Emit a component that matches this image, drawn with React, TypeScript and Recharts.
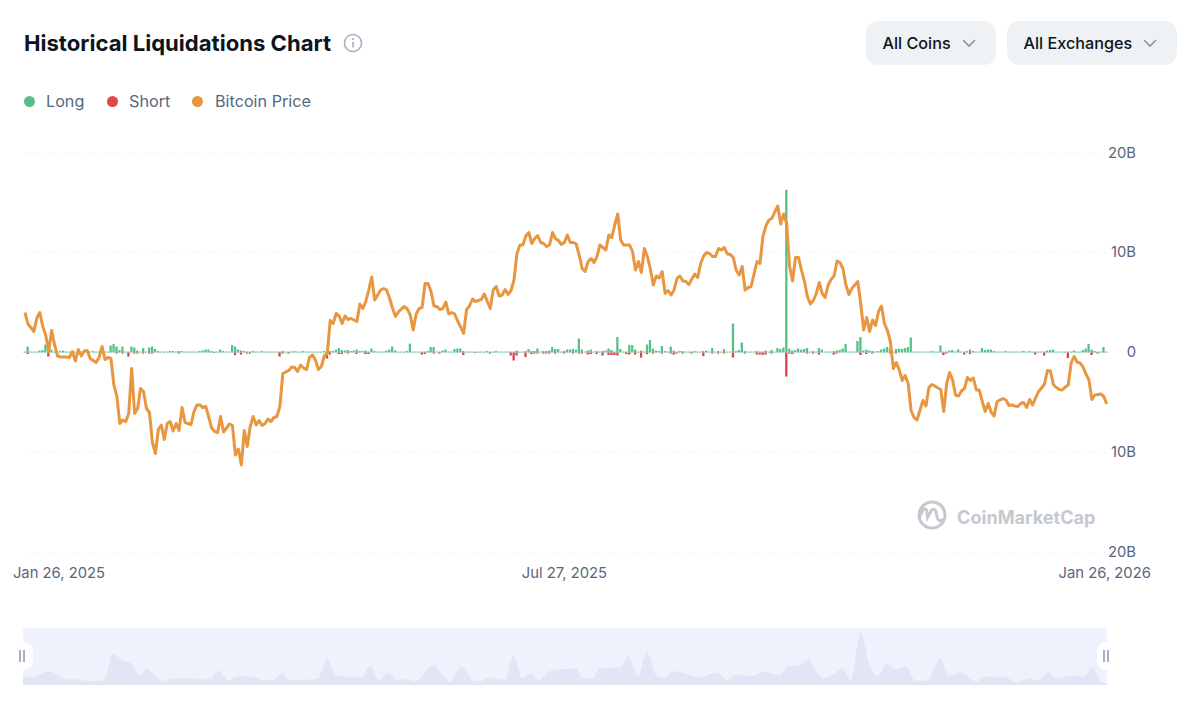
import { Area, AreaChart, Bar, CartesianGrid, ComposedChart, Line, XAxis, YAxis } from 'recharts';

// Bitcoin price in $k, one value per day from Jan 26, 2025
const priceValues = [
  104.7, 102.4, 101.7, 100.9, 103.6, 104.7, 101.9, 100.2, 96.9, 101.1,
  98.2, 96.0, 95.8, 95.8, 95.8, 95.7, 96.9, 95.0, 97.3, 96.0,
  97.0, 97.1, 95.5, 95.1, 94.7, 95.7, 97.9, 95.3, 95.7, 95.5,
  90.2, 87.9, 82.5, 83.2, 82.9, 84.5, 93.5, 84.5, 85.5, 89.5,
  88.9, 85.5, 84.7, 78.7, 76.5, 81.3, 82.2, 79.3, 82.5, 82.9,
  81.0, 82.5, 81.1, 85.7, 82.7, 82.5, 82.3, 84.8, 86.2, 86.2,
  85.7, 85.9, 83.8, 81.6, 80.9, 80.7, 83.9, 80.8, 81.6, 82.4,
  82.1, 76.2, 77.4, 74.2, 81.1, 77.9, 81.9, 83.9, 82.2, 83.1,
  82.1, 82.5, 83.4, 82.9, 83.7, 83.9, 85.9, 92.5, 92.8, 93.1,
  93.8, 93.7, 92.9, 94.2, 93.6, 93.3, 95.7, 96.2, 95.2, 93.3,
  93.9, 96.0, 96.5, 103.1, 102.5, 104.5, 104.0, 102.5, 104.0, 103.3,
  103.5, 103.2, 102.9, 106.4, 105.5, 106.9, 109.2, 111.8, 107.2, 108.2,
  109.2, 109.5, 109.2, 107.6, 105.6, 103.9, 104.8, 105.4, 105.9, 105.4,
  104.2, 101.2, 104.4, 105.5, 105.7, 110.5, 110.5, 108.9, 106.0, 105.9,
  105.3, 105.5, 106.8, 104.4, 104.7, 104.4, 103.0, 101.8, 100.5, 105.3,
  106.0, 107.4, 106.9, 107.1, 107.3, 108.4, 106.9, 105.5, 109.2, 109.9,
  108.0, 108.2, 109.3, 108.3, 109.1, 111.2, 116.5, 118.2, 118.2, 120.0,
  120.7, 118.5, 119.5, 120.1, 118.7, 118.5, 117.9, 118.2, 120.7, 119.5,
  119.1, 118.3, 118.7, 120.2, 118.7, 118.7, 118.4, 116.2, 113.5, 112.9,
  114.9, 115.5, 114.7, 115.9, 118.2, 117.7, 117.2, 120.2, 119.7, 122.2,
  124.4, 119.2, 118.2, 118.2, 118.2, 116.9, 113.2, 114.9, 112.7, 117.5,
  115.9, 113.5, 110.2, 112.0, 111.6, 112.9, 108.5, 109.1, 108.2, 109.2,
  111.5, 112.0, 111.0, 110.9, 110.3, 111.4, 112.4, 111.7, 114.5, 116.0,
  116.7, 116.5, 115.9, 115.9, 117.5, 117.2, 117.7, 116.4, 116.3, 115.7,
  113.1, 112.2, 113.9, 109.2, 109.7, 109.9, 112.4, 114.9, 114.5, 119.9,
  122.0, 123.2, 123.5, 124.8, 126.0, 122.4, 124.4, 122.5, 113.9, 111.0,
  115.7, 115.7, 113.2, 110.9, 107.9, 106.4, 107.1, 108.5, 110.7, 108.5,
  107.7, 110.2, 111.3, 112.0, 115.0, 114.7, 113.5, 110.2, 108.3, 109.5,
  110.2, 110.9, 106.5, 101.2, 103.7, 100.9, 103.2, 102.1, 104.9, 106.0,
  102.5, 101.1, 98.9, 93.5, 94.7, 93.2, 91.1, 92.1, 90.5, 85.1,
  83.7, 83.2, 85.2, 87.1, 86.0, 89.7, 90.3, 90.0, 89.6, 89.3,
  84.9, 90.5, 92.7, 91.2, 88.2, 88.0, 89.0, 89.5, 91.7, 91.1,
  91.6, 89.2, 89.2, 86.9, 84.9, 86.5, 84.8, 84.0, 86.9, 87.2,
  87.5, 87.2, 86.1, 86.2, 86.0, 85.9, 86.5, 86.7, 85.7, 87.3,
  86.2, 87.6, 88.9, 89.6, 90.4, 93.1, 93.0, 90.3, 89.7, 89.3,
  89.2, 89.8, 90.2, 94.6, 95.9, 94.8, 94.6, 93.8, 92.4, 91.2,
  87.3, 88.2, 88.3, 88.4, 87.9, 86.4,
];

// long liquidations in $B
const longValues = [
  0.1, 0.6, 0.1, 0.1, 0.1, 0.2, 0.25, 0.8, 0.1, 0.3,
  0.1, 0.1, 0.15, 0.2, 0.1, 0.1, 0.1, 0.1, 0.1, 0.1,
  0.1, 0.1, 0.1, 0.15, 0.1, 0.1, 0.1, 0.1, 0.1, 0.7,
  0.85, 0.6, 0.25, 0.6, 0.1, 0.1, 0.6, 0.5, 0.2, 0.1,
  0.45, 0.1, 0.5, 0.6, 0.35, 0.15, 0.1, 0.1, 0.1, 0.15,
  0.15, 0.1, 0.15, 0.15, 0.1, 0.1, 0.1, 0.1, 0.1, 0.15,
  0.2, 0.3, 0.3, 0.15, 0.1, 0.1, 0.3, 0.15, 0.1, 0.1,
  0.75, 0.6, 0.3, 0.2, 0.15, 0.1, 0.1, 0.15, 0.1, 0.1,
  0.15, 0.1, 0.1, 0.1, 0.1, 0.1, 0.1, 0.15, 0.1, 0.1,
  0.1, 0.15, 0.1, 0.1, 0.15, 0.1, 0.1, 0.1, 0.1, 0.1,
  0.1, 0.15, 0.15, 0.15, 0.15, 0.3, 0.45, 0.25, 0.2, 0.25,
  0.15, 0.2, 0.3, 0.15, 0.15, 0.2, 0.1, 0.4, 0.15, 0.1,
  0.1, 0.1, 0.2, 0.3, 0.6, 0.2, 0.1, 0.1, 0.1, 0.15,
  0.9, 0.1, 0.1, 0.1, 0.1, 0.1, 0.15, 0.55, 0.55, 0.1,
  0.1, 0.2, 0.3, 0.1, 0.1, 0.35, 0.4, 0.4, 0.15, 0.1,
  0.1, 0.1, 0.1, 0.1, 0.1, 0.1, 0.15, 0.1, 0.1, 0.15,
  0.1, 0.1, 0.1, 0.1, 0.1, 0.1, 0.2, 0.1, 0.1, 0.15,
  0.35, 0.15, 0.15, 0.4, 0.1, 0.15, 0.15, 0.2, 0.55, 0.35,
  0.35, 0.1, 0.15, 0.3, 0.3, 0.35, 0.3, 1.4, 0.3, 0.1,
  0.2, 0.3, 0.1, 0.15, 0.1, 0.15, 0.2, 0.4, 0.25, 0.1,
  1.55, 0.35, 0.1, 0.1, 0.75, 0.75, 0.3, 0.1, 0.2, 0.1,
  0.8, 1.25, 0.4, 0.2, 0.15, 0.65, 0.15, 0.1, 0.6, 0.2,
  0.1, 0.15, 0.15, 0.1, 0.1, 0.1, 0.15, 0.1, 0.1, 0.15,
  0.2, 0.1, 0.45, 0.1, 0.15, 0.1, 0.35, 0.1, 0.1, 2.9,
  0.15, 0.25, 1.0, 0.15, 0.1, 0.1, 0.1, 0.15, 0.1, 0.1,
  0.2, 0.1, 0.25, 0.1, 0.45, 0.35, 0.5, 16.3, 0.4, 0.2,
  0.25, 0.4, 0.3, 0.35, 0.45, 0.1, 0.15, 0.1, 0.45, 0.3,
  0.1, 0.1, 0.1, 0.15, 0.2, 0.25, 0.4, 0.85, 0.1, 0.1,
  0.1, 1.15, 1.55, 0.2, 0.3, 0.2, 0.15, 0.1, 0.15, 0.3,
  0.4, 0.55, 0.4, 0.1, 0.35, 0.4, 0.35, 0.45, 0.55, 1.5,
  0.1, 0.1, 0.1, 0.1, 0.1, 0.1, 0.15, 0.1, 0.1, 0.7,
  0.1, 0.1, 0.2, 0.25, 0.1, 0.3, 0.1, 0.1, 0.15, 0.3,
  0.15, 0.1, 0.1, 0.45, 0.25, 0.3, 0.3, 0.15, 0.1, 0.1,
  0.1, 0.15, 0.1, 0.1, 0.1, 0.1, 0.1, 0.15, 0.1, 0.15,
  0.1, 0.1, 0.1, 0.1, 0.1, 0.2, 0.25, 0.3, 0.1, 0.1,
  0.1, 0.1, 0.1, 0.1, 0.2, 0.1, 0.1, 0.25, 0.4, 0.85,
  0.3, 0.15, 0.1, 0.1, 0.55, 0.1,
];

// short liquidations in $B
const shortValues = [
  0, 0.15, 0, 0, 0, 0, 0, 0, 0.4, 0,
  0, 0, 0, 0, 0, 0, 0, 0, 0, 0,
  0, 0, 0, 0, 0, 0, 0, 0, 0, 0,
  0, 0.1, 0, 0.1, 0, 0.4, 0, 0.1, 0.1, 0,
  0.1, 0, 0.1, 0.1, 0, 0, 0, 0, 0, 0,
  0, 0, 0.1, 0, 0, 0, 0, 0, 0, 0,
  0, 0, 0, 0, 0.05, 0, 0, 0, 0, 0,
  0, 0.25, 0, 0.2, 0, 0.1, 0.1, 0, 0, 0,
  0, 0, 0, 0, 0, 0, 0.4, 0.1, 0, 0.1,
  0, 0, 0, 0, 0, 0, 0, 0, 0, 0,
  0, 0, 0.6, 0.2, 0, 0, 0.15, 0.15, 0, 0.1,
  0, 0, 0.15, 0, 0, 0.15, 0.15, 0, 0, 0,
  0, 0, 0, 0, 0, 0, 0, 0, 0, 0,
  0, 0, 0, 0, 0.2, 0.15, 0, 0, 0.1, 0,
  0.1, 0, 0, 0, 0, 0, 0, 0, 0.25, 0,
  0, 0, 0.05, 0, 0, 0, 0, 0.1, 0, 0,
  0, 0, 0, 0, 0.3, 0.8, 0.3, 0, 0, 0.45,
  0, 0.15, 0.1, 0.1, 0, 0.1, 0.1, 0.1, 0, 0.1,
  0, 0, 0.1, 0, 0, 0.1, 0, 0.1, 0.1, 0,
  0.2, 0.15, 0, 0.15, 0, 0.3, 0, 0.25, 0.25, 0.25,
  0.3, 0, 0, 0.15, 0.2, 0, 0.2, 0, 0.5, 0,
  0.15, 0, 0.1, 0, 0, 0.1, 0, 0, 0.1, 0.2,
  0.1, 0, 0.1, 0, 0, 0.1, 0, 0, 0, 0.35,
  0, 0, 0.1, 0, 0.1, 0, 0.1, 0, 0, 0.5,
  0, 0, 0, 0.1, 0, 0, 0, 0.2, 0.2, 0.25,
  0.2, 0, 0.1, 0, 0, 0, 0, 2.4, 0.1, 0.15,
  0, 0, 0, 0, 0.1, 0, 0.1, 0, 0.2, 0,
  0, 0, 0, 0.2, 0.1, 0, 0, 0, 0, 0,
  0, 0, 0.25, 0, 0.15, 0, 0.1, 0, 0, 0,
  0, 0, 0.1, 0, 0.1, 0, 0, 0, 0, 0,
  0, 0, 0, 0, 0, 0, 0, 0, 0, 0,
  0.25, 0.1, 0, 0, 0, 0, 0, 0.2, 0, 0.15,
  0, 0, 0, 0, 0, 0, 0, 0, 0, 0,
  0, 0, 0, 0, 0, 0, 0, 0, 0, 0,
  0, 0.2, 0, 0, 0.3, 0, 0, 0, 0, 0,
  0, 0, 0.55, 0, 0, 0, 0, 0, 0, 0,
  0.25, 0, 0.1, 0, 0, 0,
];

// overview strip under the chart: day offset and relative volume
const overviewDays = [
  0, 3.1, 5.7, 8.9, 11.5, 14.3, 18.6, 21.2, 27, 28.3, 30.2, 33.4, 36, 37.5, 39.2, 41.8, 43.7, 47.6, 50.2, 56,
  59.2, 63.1, 66, 69.3, 72.2, 78, 81.2, 84.4, 87.3, 90.2, 93.5, 99.3, 102.5, 105.7, 114.1, 117.1, 120, 123.2, 126.4, 129.6,
  132.2, 138.6, 140.6, 144.2, 147.7, 152.2, 154.8, 156.7, 162.5, 165.4, 168.3, 171.3, 174.1, 177.6, 186.4, 189, 192.2, 194.5, 201.6, 204.2,
  207.4, 210.4, 213.9, 216.7, 219, 221.6, 228.1, 233.9, 237.4, 240.3, 246.8, 249.4, 255.2, 257.8, 261.6, 264.9, 267.5, 270, 272.6, 276.5,
  279.1, 282.6, 285.5, 288.1, 291.3, 294.6, 297.8, 301, 304.9, 309.4, 312.3, 315.9, 321.7, 324.3, 331.4, 335.2, 339.8, 342.3, 345.8, 348.1,
  354.6, 357.8, 360.8, 363.6, 365.6,
];
const overviewValues = [
  27, 21, 33, 40, 30, 17, 17, 12, 13, 35, 93, 73, 67, 50, 27, 50, 35, 10, 19, 20,
  17, 18, 43, 13, 27, 22, 14, 15, 34, 13, 16, 17, 77, 30, 22, 57, 15, 35, 15, 19,
  11, 60, 40, 10, 55, 12, 11, 23, 15, 87, 20, 35, 15, 42, 49, 20, 20, 50, 53, 87,
  25, 97, 25, 20, 41, 39, 23, 37, 15, 30, 27, 40, 30, 55, 60, 77, 40, 20, 28, 50,
  15, 155, 60, 27, 63, 48, 55, 13, 13, 78, 27, 37, 10, 25, 22, 9, 20, 13, 38, 20,
  28, 25, 53, 10, 7,
];

const yTicks = [20, 10, 0, -10, -20];
const xTicks = ['Jan 26, 2025', 'Jul 27, 2025', 'Jan 26, 2026'];
const legendItems = [
  { label: 'Long', color: '#55c188', dot: 29, text: 46 },
  { label: 'Short', color: '#dd4848', dot: 112, text: 129 },
  { label: 'Bitcoin Price', color: '#ea963f', dot: 197, text: 215 },
];

const formatDay = (index: number) =>
  new Date(Date.UTC(2025, 0, 26 + index)).toLocaleDateString('en-US', {
    month: 'short',
    day: 'numeric',
    year: 'numeric',
    timeZone: 'UTC',
  });

const chartData = priceValues.map((price, i) => ({
  date: formatDay(i),
  price,
  long: longValues[i],
  short: shortValues[i] ? -shortValues[i] : null,
}));

const overviewData = overviewDays.map((day, i) => ({ day, value: overviewValues[i] }));

const FONT = 'Inter, sans-serif';
const MUTED = '#58667e';

function XTick({ x, y, payload, index }: any) {
  const shift = index === 0 ? 34 : index === 2 ? -2 : 0;
  return (
    <text x={x + shift} y={y + 17.2} textAnchor="middle" fontFamily={FONT} fontSize={14.8} fill={MUTED}>
      {payload.value}
    </text>
  );
}

function YTick({ y, payload }: any) {
  return (
    <text x={1136} y={y + 4.7} textAnchor="end" fontFamily={FONT} fontSize={14.8} fill={MUTED}>
      {payload.value === 0 ? '0' : `${Math.abs(payload.value)}B`}
    </text>
  );
}

function Dropdown({ label, left, width }: { label: string; left: number; width: number }) {
  return (
    <div
      style={{
        position: 'absolute',
        left,
        top: 21,
        width,
        height: 44,
        borderRadius: 12,
        background: '#eff2f5',
        fontSize: 16.2,
        fontWeight: 500,
        lineHeight: '44px',
        color: '#0d1421',
      }}
    >
      <span style={{ position: 'absolute', left: 16.5, whiteSpace: 'nowrap' }}>{label}</span>
      <svg width="16" height="10" style={{ position: 'absolute', right: 19, top: 17 }}>
        <path d="M2 2 L8 8 L14 2" fill="none" stroke="#8a94a6" strokeWidth="1.6" />
      </svg>
    </div>
  );
}

function Handle({ left }: { left: number }) {
  return (
    <div
      style={{
        position: 'absolute',
        left,
        top: 642,
        width: 20,
        height: 28,
        borderRadius: 9,
        background: '#fff',
      }}
    >
      <div style={{ position: 'absolute', left: 6, top: 8, width: 1.5, height: 12, background: '#a6b0c3' }} />
      <div style={{ position: 'absolute', left: 10, top: 8, width: 1.5, height: 12, background: '#a6b0c3' }} />
    </div>
  );
}

export default function App() {
  return (
    <div
      style={{
        position: 'absolute',
        left: 0,
        top: 0,
        width: 1200,
        height: 716,
        background: '#fff',
        overflow: 'hidden',
        fontFamily: FONT,
      }}
    >
      <div
        style={{
          position: 'absolute',
          left: 24,
          top: 29,
          fontSize: 22.1,
          fontWeight: 700,
          lineHeight: '28px',
          color: '#0d1421',
          whiteSpace: 'nowrap',
        }}
      >
        Historical Liquidations Chart
      </div>
      <svg width="20" height="20" style={{ position: 'absolute', left: 343, top: 33 }}>
        <circle cx="10" cy="10" r="8.5" fill="none" stroke="#a6b0c3" strokeWidth="1.6" />
        <line x1="10" y1="9" x2="10" y2="14.5" stroke="#a6b0c3" strokeWidth="1.6" />
        <circle cx="10" cy="6" r="1.1" fill="#a6b0c3" />
      </svg>

      <Dropdown label="All Coins" left={866} width={130} />
      <Dropdown label="All Exchanges" left={1007} width={170} />

      {legendItems.map((item) => (
        <div key={item.label}>
          <div
            style={{
              position: 'absolute',
              left: item.dot - 5.5,
              top: 95.5,
              width: 11,
              height: 11,
              borderRadius: '50%',
              background: item.color,
            }}
          />
          <div
            style={{
              position: 'absolute',
              left: item.text,
              top: 90,
              fontSize: 16.2,
              lineHeight: '22px',
              color: MUTED,
              whiteSpace: 'nowrap',
            }}
          >
            {item.label}
          </div>
        </div>
      ))}

      <div style={{ position: 'absolute', left: 0, top: 0 }}>
        <ComposedChart
          width={1200}
          height={600}
          data={chartData}
          stackOffset="sign"
          margin={{ top: 152.8, right: 41.8, left: 23.5, bottom: 17.7 }}
        >
          <CartesianGrid
            yAxisId="liq"
            horizontal
            vertical={false}
            stroke="#e9edf2"
            strokeDasharray="1.5 3.5"
          />
          <XAxis
            dataKey="date"
            ticks={xTicks}
            interval={0}
            height={30}
            axisLine={false}
            tickLine={false}
            tick={<XTick />}
          />
          <YAxis
            yAxisId="liq"
            orientation="right"
            width={50}
            domain={[-20, 20]}
            ticks={yTicks}
            axisLine={false}
            tickLine={false}
            tick={<YTick />}
          />
          <YAxis yAxisId="price" hide domain={[56.74, 136.64]} />
          <Bar yAxisId="liq" dataKey="long" name="Long" stackId="liq" barSize={2.3} fill="#55c188" isAnimationActive={false} />
          <Bar yAxisId="liq" dataKey="short" name="Short" stackId="liq" barSize={2.3} fill="#df3f50" isAnimationActive={false} />
          <Line
            yAxisId="price"
            dataKey="price"
            name="Bitcoin Price"
            stroke="#e8963f"
            strokeWidth={3}
            dot={false}
            strokeLinejoin="round"
            isAnimationActive={false}
          />
        </ComposedChart>
      </div>

      {/* watermark */}
      <svg width="32" height="32" style={{ position: 'absolute', left: 916, top: 499 }}>
        <path
          d="M27 20.5 C24 23 21.5 21 21 18 L20 12.5 C19.4 9.5 16.5 9.5 15 12 L11.5 18.5 L10.8 12.5 C10.4 9.5 7.5 9.3 6.3 12 L3.8 18 M3 16 A13 13 0 1 1 13.5 28.8 A13 13 0 0 1 3 16"
          fill="none"
          stroke="#c5c9cf"
          strokeWidth="3"
          strokeLinecap="round"
        />
      </svg>
      <div
        style={{
          position: 'absolute',
          left: 957,
          top: 505,
          fontSize: 18.1,
          fontWeight: 700,
          lineHeight: '24px',
          color: '#c5c9cf',
          whiteSpace: 'nowrap',
        }}
      >
        CoinMarketCap
      </div>

      {/* overview strip */}
      <div style={{ position: 'absolute', left: 23, top: 628, background: '#eff2fc' }}>
        <AreaChart width={1084} height={57} data={overviewData} margin={{ top: 0, right: 0, left: 0, bottom: 0 }}>
          <XAxis dataKey="day" type="number" domain={[0, 365.6]} hide />
          <YAxis domain={[0, 170]} hide />
          <Area
            dataKey="value"
            type="monotone"
            stroke="none"
            fill="#e0e6f4"
            fillOpacity={1}
            dot={false}
            isAnimationActive={false}
          />
        </AreaChart>
      </div>
      <Handle left={13} />
      <Handle left={1097} />
    </div>
  );
}
